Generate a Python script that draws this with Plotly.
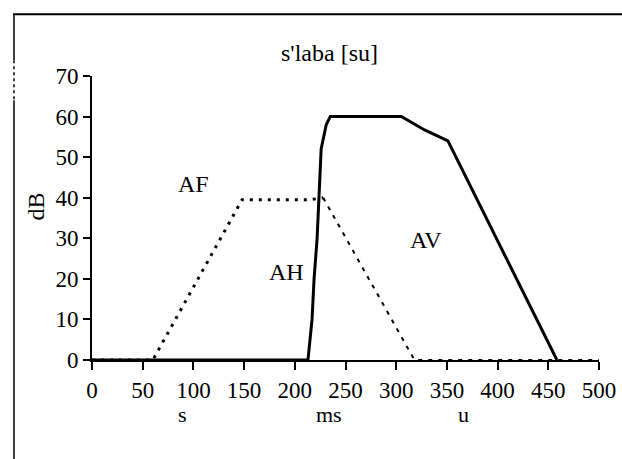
import plotly.graph_objects as go

# Data
av_x = [0, 213, 217, 219, 222, 224, 226, 231, 235, 305, 320, 328, 351, 458.5]
av_y = [0, 0, 10, 20, 30, 40, 52, 58, 60, 60, 57.8, 56.7, 54, 0]

af_x = [0, 60, 148, 215, 228, 318, 500]
af_y = [0, 0, 39.5, 39.5, 40, 0, 0]

x_ticks = [0, 50, 100, 150, 200, 250, 300, 350, 400, 450, 500]
y_ticks = [0, 10, 20, 30, 40, 50, 60, 70]

labels = ["AF", "AH", "AV"]
label_x = [100, 192, 329]
label_y = [43.3, 21.6, 29.5]

sub_labels = ["s", "ms", "u"]
sub_x = [89, 234, 366]

FONT = "Liberation Serif"
PH = 283.8  # plot height in px
PW = 507.0  # plot width in px


def py(pix):
    return (359.5 - pix) / PH


def px(pix):
    return (pix - 92) / PW


fig = go.Figure()
# AF rising + plateau (heavier dots)
fig.add_trace(go.Scatter(x=af_x[:5], y=af_y[:5], mode="lines",
                         line=dict(color="black", width=3, dash="3px,6px"),
                         showlegend=False, hoverinfo="skip"))
# AF falling + tail (thinner dashes)
fig.add_trace(go.Scatter(x=af_x[4:], y=af_y[4:], mode="lines",
                         line=dict(color="black", width=2, dash="4px,6px"),
                         showlegend=False, hoverinfo="skip"))
# AH / AV solid
fig.add_trace(go.Scatter(x=av_x, y=av_y, mode="lines",
                         line=dict(color="black", width=3),
                         showlegend=False, hoverinfo="skip"))

for t, x, y in zip(labels, label_x, label_y):
    fig.add_annotation(x=x, y=y, xref="x", yref="y", text=t, showarrow=False,
                       xanchor="center", yanchor="middle",
                       font=dict(family=FONT, size=24, color="black"))

for t, x in zip(sub_labels, sub_x):
    fig.add_annotation(x=x, y=py(414), xref="x", yref="paper", text=t, showarrow=False,
                       xanchor="center", yanchor="middle",
                       font=dict(family=FONT, size=22, color="black"))

fig.add_annotation(x=px(329), y=py(53), xref="paper", yref="paper", text="s'laba [su]",
                   showarrow=False, xanchor="center", yanchor="middle",
                   font=dict(family=FONT, size=24, color="black"))
fig.add_annotation(x=px(36), y=py(206), xref="paper", yref="paper", text="dB",
                   textangle=-90, showarrow=False, xanchor="center", yanchor="middle",
                   font=dict(family=FONT, size=24, color="black"))

# Scanned frame borders
fig.add_shape(type="line", xref="paper", yref="paper",
              x0=px(13), x1=px(622), y0=py(14), y1=py(14),
              line=dict(color="black", width=2))
fig.add_shape(type="line", xref="paper", yref="paper",
              x0=px(14), x1=px(14), y0=py(14), y1=py(60),
              line=dict(color="black", width=1.5))
fig.add_shape(type="line", xref="paper", yref="paper",
              x0=px(14), x1=px(14), y0=py(60), y1=py(100),
              line=dict(color="black", width=1.5, dash="dot"))
fig.add_shape(type="line", xref="paper", yref="paper",
              x0=px(14), x1=px(14), y0=py(100), y1=py(459),
              line=dict(color="black", width=1.5))

fig.update_xaxes(range=[0, 500], tickvals=x_ticks, ticktext=[str(v) for v in x_ticks],
                 showline=True, linecolor="black", linewidth=2,
                 ticks="outside", ticklen=8, tickwidth=1.5, tickcolor="black",
                 showgrid=False, zeroline=False, automargin=False,
                 tickfont=dict(family=FONT, size=23, color="black"))
fig.update_yaxes(range=[0, 70], tickvals=y_ticks,
                 showline=True, linecolor="black", linewidth=2,
                 ticks="outside", ticklen=7, tickwidth=1.5, tickcolor="black",
                 showgrid=False, zeroline=False, automargin=False,
                 tickfont=dict(family=FONT, size=23, color="black"))

fig.update_layout(width=622, height=459,
                  margin=dict(l=92, r=23, t=76, b=99, autoexpand=False),
                  plot_bgcolor="white", paper_bgcolor="white",
                  font=dict(family=FONT, color="black"))

fig.write_html("out.html")
